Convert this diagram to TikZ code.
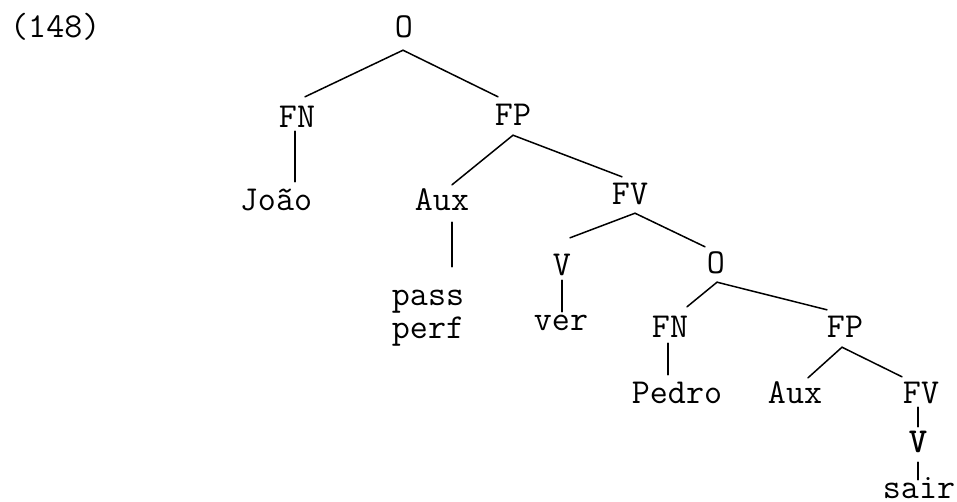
\documentclass[tikz,border=0pt]{standalone}
\usepackage{fontspec}
\usetikzlibrary{calc}
\begin{document}
\begin{tikzpicture}[x=1pt,y=-1pt,
  lbl/.style={anchor=base,inner sep=0pt,text height=22pt,text depth=0pt,
    font=\fontsize{35}{40}\ttfamily\selectfont},
  low/.style={lbl,text height=16pt},
  branch/.style={line width=1.5pt,line cap=round}]
\useasboundingbox (0,0) rectangle (957,501);
\fill[white] (0,0) rectangle (957,501);

% example number
\node[lbl,anchor=base west] (ex) at (10,37) {(148)};

% nodes of the tree
\node[lbl] (o1)    at (404,37)  {O};
\node[lbl] (fn1)   at (297,127) {FN};
\node[lbl] (fp1)   at (513,125) {FP};
\node[lbl] (joao)  at (276,210) {João};
\node[lbl] (aux1)  at (442,210) {Aux};
\node[lbl] (fv1)   at (630,204) {FV};
\node[lbl] (pass)  at (428,305) {pass};
\node[low] (perf)  at (428,338) {perf};
\node[lbl] (v1)    at (562,275) {V};
\node[lbl] (ver)   at (561,330) {ver};
\node[lbl] (o2)    at (716,273) {O};
\node[lbl] (fn2)   at (670,337) {FN};
\node[lbl] (fp2)   at (845,337) {FP};
\node[lbl] (pedro) at (677,403) {Pedro};
\node[lbl] (aux2)  at (795,403) {Aux};
\node[lbl] (fv2)   at (921,403) {FV};
\node[lbl,font=\fontsize{35}{40}\ttfamily\bfseries\selectfont] (v2) at (918,452) {V};
\node[low] (sair)  at (919,498) {sair};

% branches
\draw[branch] ([shift={(-1,13)}]o1.south) -- ([shift={(8,-8)}]fn1.north);
\draw[branch] ([shift={(-1,13)}]o1.south) -- ([shift={(-15,-6)}]fp1.north);
\draw[branch] ([shift={(-2,4)}]fn1.south) -- ([shift={(19,-6)}]joao.north);
\draw[branch] ([shift={(0,10)}]fp1.south) -- ([shift={(10,-3)}]aux1.north);
\draw[branch] ([shift={(0,10)}]fp1.south) -- ([shift={(-8,-5)}]fv1.north);
\draw[branch] ([shift={(10,12)}]aux1.south) -- ([shift={(24,-16)}]pass.north);
\draw[branch] ([shift={(5,9)}]fv1.south) -- ([shift={(8,-15)}]v1.north);
\draw[branch] ([shift={(5,9)}]fv1.south) -- ([shift={(-11,-4)}]o2.north);
\draw[branch] ([shift={(0,5)}]v1.south) -- ([shift={(1,4)}]ver.north);
\draw[branch] ([shift={(1,9)}]o2.south) -- ([shift={(17,-8)}]fn2.north);
\draw[branch] ([shift={(1,9)}]o2.south) -- ([shift={(-18,-5)}]fp2.north);
\draw[branch] ([shift={(-2,6)}]fn2.south) -- ([shift={(-9,-6)}]pedro.north);
\draw[branch] ([shift={(-3,10)}]fp2.south) -- ([shift={(13,-3)}]aux2.north);
\draw[branch] ([shift={(-3,10)}]fp2.south) -- ([shift={(-19,-4)}]fv2.north);
\draw[branch] ([shift={(-3,4)}]fv2.south) -- ([shift={(0,-3)}]v2.north);
\draw[branch] ([shift={(0,10)}]v2.south) -- ([shift={(-1,-2)}]sair.north);
\end{tikzpicture}
\end{document}
